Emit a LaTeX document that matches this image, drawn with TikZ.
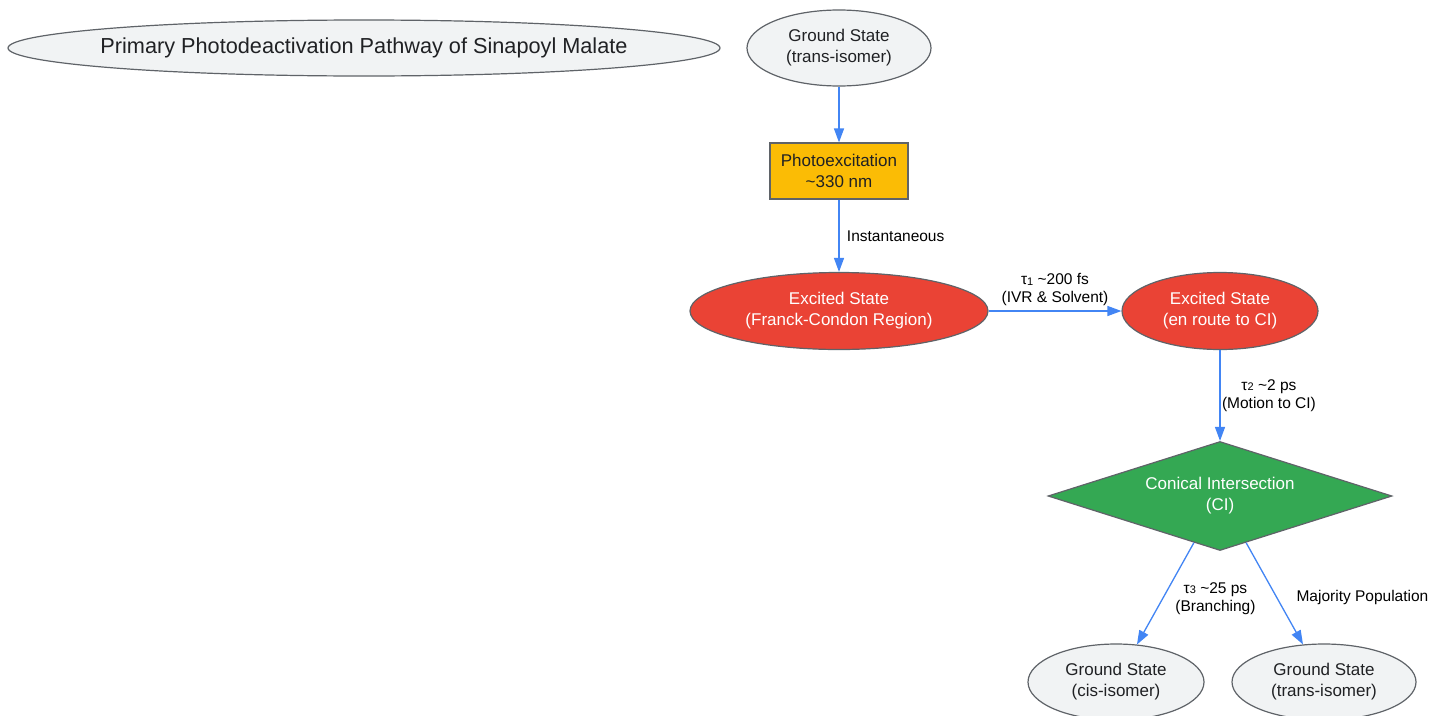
\documentclass[tikz,border=0pt]{standalone}
\usepackage{fontspec}
\setmainfont{Liberation Sans}
\usetikzlibrary{shapes.geometric,arrows.meta}
\definecolor{gfill}{HTML}{F1F3F4}
\definecolor{gline}{HTML}{5F6368}
\definecolor{gtext}{HTML}{202124}
\definecolor{gyellow}{HTML}{FBBC05}
\definecolor{gred}{HTML}{EA4335}
\definecolor{ggreen}{HTML}{34A853}
\definecolor{gblue}{HTML}{4285F4}
\tikzset{
  every node/.style={font=\fontsize{17}{21}\selectfont, text=gtext, align=center},
  oval/.style={ellipse, draw=gline, line width=1.2pt, fill=gfill, inner sep=0pt},
  hot/.style={oval, fill=gred, text=white},
  box/.style={rectangle, draw=gline, line width=1.2pt, fill=gyellow, inner sep=0pt,
    minimum width=138pt, minimum height=56pt},
  ci/.style={diamond, draw=gline, line width=1.2pt, fill=ggreen, text=white, inner sep=0pt,
    aspect=3.16, minimum width=344pt, minimum height=109pt},
  flow/.style={draw=gblue, line width=1.3pt, -{Triangle[length=14pt,width=10pt]}},
  lab/.style={font=\fontsize{15.5}{18}\selectfont, text=black}
}
\newcommand{\tausub}[1]{τ\raisebox{-0.5pt}{\fontsize{11}{11}\selectfont #1}}
\begin{document}
\begin{tikzpicture}[x=1pt,y=-1pt]
\useasboundingbox[fill=white] (0,0) rectangle (1442,715);
\node[oval, inner xsep=-12pt, minimum width=712pt, minimum height=56pt, font=\fontsize{21.7}{26}\selectfont] (t) at (364,48) {Primary Photodeactivation Pathway of Sinapoyl Malate};
\node[oval, minimum width=184pt, minimum height=76pt] (a) at (839,48) {Ground State\\(trans-isomer)};
\node[box] (b) at (839,171) {Photoexcitation\\{\textasciitilde}330 nm};
\node[hot, minimum width=298pt, minimum height=77pt] (c) at (839,311) {Excited State\\(Franck-Condon Region)};
\node[hot, minimum width=196pt, minimum height=77pt] (d) at (1220,311) {Excited State\\(en route to CI)};
\node[ci] (e) at (1220,496) {Conical Intersection\\(CI)};
\node[oval, minimum width=176pt, minimum height=76pt] (f) at (1116,682) {Ground State\\(cis-isomer)};
\node[oval, minimum width=184pt, minimum height=76pt] (g) at (1324,682) {Ground State\\(trans-isomer)};
\draw[flow] (a) -- (b);
\draw[flow] (b) -- node[lab, right=4pt] {Instantaneous} (c);
\draw[flow] (c) -- node[lab, above=1pt] {\tausub{1} {\textasciitilde}200 fs\\(IVR \& Solvent)} (d);
\draw[flow] (d) -- node[lab, right=-2pt] {\tausub{2} {\textasciitilde}2 ps\\(Motion to CI)} (e);
\draw[flow] (e) -- node[lab, right=6pt, yshift=-5pt] {\tausub{3} {\textasciitilde}25 ps\\(Branching)} (f);
\draw[flow] (e) -- node[lab, right=18pt, yshift=-4pt] {Majority Population} (g);
\end{tikzpicture}
\end{document}
